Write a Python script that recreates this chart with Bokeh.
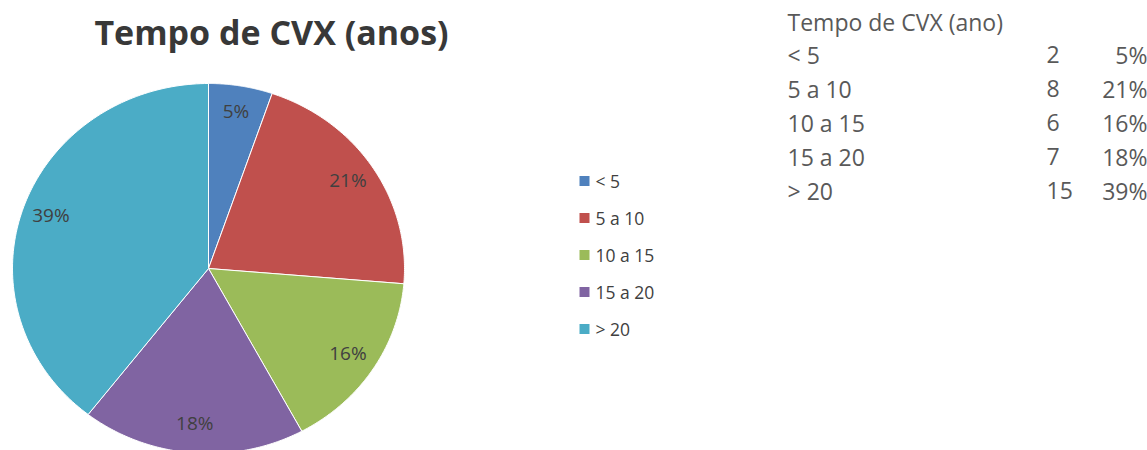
import numpy as np
from bokeh.plotting import figure
from bokeh.models import Range1d
from bokeh.core.properties import value
from bokeh.embed import file_html
from bokeh.resources import INLINE

# ---- data ----
title = "Tempo de CVX (anos)"
table_title = "Tempo de CVX (ano)"
categories = ["< 5", "5 a 10", "10 a 15", "15 a 20", "> 20"]
counts = [2, 8, 6, 7, 15]
colors = ["#4F81BD", "#C0504D", "#9BBB59", "#8064A2", "#4BACC6"]

W, H = 1147, 450
FONT = "Open Sans"
TXT = "#404040"
TBL = "#595959"

p = figure(width=W, height=H, output_backend="svg", toolbar_location=None,
           x_range=Range1d(0, W), y_range=Range1d(H, 0), min_border=0)
p.axis.visible = False
p.grid.visible = False
p.outline_line_color = None
p.background_fill_color = "white"
p.border_fill_color = "white"

# ---- pie (elliptical, clockwise from top) ----
cx, cy, rx, ry = 208, 268, 196, 185
total = float(sum(counts))
fracs = np.array(counts) / total
ends = np.cumsum(fracs) * 2 * np.pi
starts = np.concatenate([[0.0], ends[:-1]])
xs, ys = [], []
for a0, a1 in zip(starts, ends):
    t = np.linspace(a0, a1, 120)
    xs.append(list(np.concatenate([[cx], cx + rx * np.sin(t)])))
    ys.append(list(np.concatenate([[cy], cy - ry * np.cos(t)])))
p.patches(xs=xs, ys=ys, fill_color=colors, line_color="white", line_width=1)

pct = [f"{int(round(f * 100))}%" for f in fracs]
mids = (starts + ends) / 2
lr = 0.85
lx = cx + lr * rx * np.sin(mids)
ly = cy - lr * ry * np.cos(mids) - 2
p.text(x=list(lx), y=list(ly), text=pct, text_align="center", text_baseline="middle",
       text_font=value(FONT), text_font_size="19px", text_color=TXT)

# ---- title ----
p.text(x=[271], y=[31], text=[title], text_align="center", text_baseline="middle",
       text_font=value(FONT), text_font_size="34px", text_font_style="bold", text_color="#383838")

# ---- legend ----
ly0, lstep = 180.5, 37
leg_y = [ly0 + i * lstep for i in range(len(categories))]
p.scatter(x=[584] * len(categories), y=leg_y, marker="square", size=10,
          fill_color=colors, line_color=None)
p.text(x=[595] * len(categories), y=leg_y, text=categories, text_baseline="middle",
       text_font=value(FONT), text_font_size="17.5px", text_color=TXT)

# ---- table ----
ty0, tstep = 54, 34
p.text(x=[787], y=[21], text=[table_title], text_baseline="middle",
       text_font=value(FONT), text_font_size="23px", text_color=TBL)
row_y = [ty0 + i * tstep for i in range(len(categories))]
p.text(x=[787] * len(categories), y=row_y, text=categories, text_baseline="middle",
       text_font=value(FONT), text_font_size="23px", text_color=TBL)
p.text(x=[1046] * len(categories), y=row_y, text=[str(c) for c in counts], text_baseline="middle",
       text_font=value(FONT), text_font_size="23px", text_color=TBL)
p.text(x=[1147] * len(categories), y=row_y, text=pct, text_baseline="middle", text_align="right",
       text_font=value(FONT), text_font_size="23px", text_color=TBL)

open("out.html", "w").write(file_html(p, INLINE))
